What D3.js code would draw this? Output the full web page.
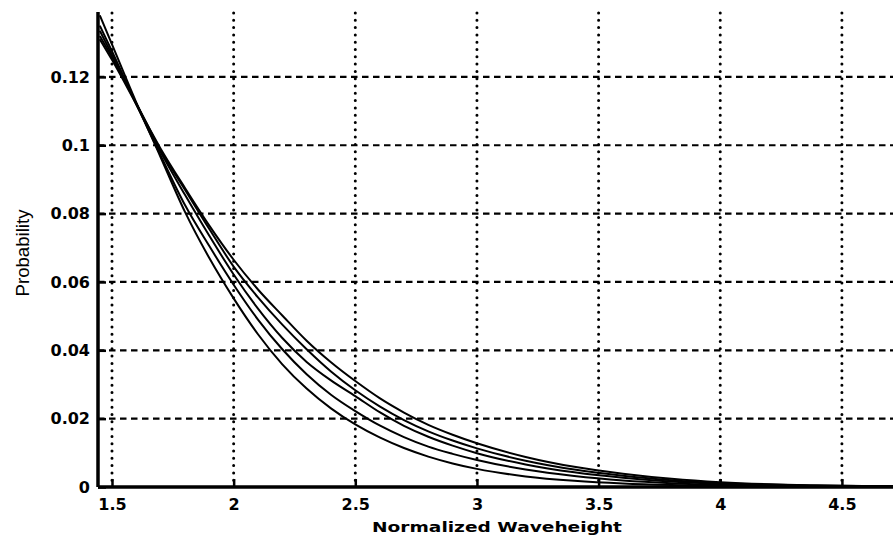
<!DOCTYPE html>
<html><head><meta charset="utf-8">
<script src="https://cdn.jsdelivr.net/npm/d3@7"></script>
<style>html,body{margin:0;padding:0;background:#fff;}svg{display:block;}</style>
</head><body>
<svg id="chart" width="893" height="539"></svg>
<script>
const xValues = [1.45,1.5,1.6,1.7,1.8,1.9,2.0,2.1,2.2,2.3,2.4,2.5,2.6,2.7,2.8,2.9,3.0,3.2,3.4,3.6,3.8,4.0,4.2,4.4,4.6,4.72];
const seriesA = [0.138,0.1295,0.1125,0.0965,0.0805,0.067,0.0552,0.0447,0.0359,0.0288,0.023,0.0183,0.0145,0.0114,0.0089,0.0069,0.0053,0.0031,0.0018,0.001,0.00055,0.0003,0.00017,0.0001,0.00006,0.00004];
const seriesB = [0.135,0.1275,0.112,0.097,0.0825,0.0705,0.0592,0.049,0.0403,0.033,0.027,0.0222,0.018,0.0146,0.0118,0.0097,0.0079,0.0051,0.0032,0.0019,0.0011,0.0006,0.00035,0.0002,0.00012,0.0001];
const seriesC = [0.1335,0.1265,0.112,0.098,0.0855,0.0735,0.0622,0.0522,0.0436,0.0366,0.0312,0.0266,0.0219,0.0179,0.0147,0.0121,0.0099,0.0066,0.0043,0.0027,0.0016,0.0009,0.0005,0.0003,0.00017,0.00012];
const seriesD = [0.132,0.1258,0.1123,0.0985,0.087,0.0755,0.0645,0.0555,0.0475,0.0403,0.0338,0.0283,0.0236,0.0196,0.0163,0.0136,0.0113,0.0077,0.0051,0.0033,0.002,0.0011,0.0007,0.0004,0.00025,0.00018];
const seriesE = [0.131,0.125,0.112,0.099,0.0875,0.0765,0.0665,0.0578,0.0502,0.0428,0.0365,0.031,0.026,0.0218,0.0182,0.0153,0.0128,0.0088,0.0059,0.0039,0.0024,0.0014,0.0008,0.0005,0.0003,0.0002];
const xTicks = [1.5,2,2.5,3,3.5,4,4.5];
const xTickLabels = ["1.5","2","2.5","3","3.5","4","4.5"];
const yTicks = [0,0.02,0.04,0.06,0.08,0.1,0.12];
const yTickLabels = ["0","0.02","0.04","0.06","0.08","0.1","0.12"];
const xLabel = "Normalized Waveheight";
const yLabel = "Probability";

const svg = d3.select("#chart");
const mLeft = 98, mRight = 893, mBottom = 487, mTop = 12;
const x = d3.scaleLinear().domain([1.4425, 4.71]).range([mLeft, mRight]);
const y = d3.scaleLinear().domain([0, 0.139]).range([mBottom, mTop]);

// grid: vertical dotted
svg.append("g").selectAll("line").data(xTicks).join("line")
  .attr("x1", d => x(d)).attr("x2", d => x(d))
  .attr("y1", mTop + 1).attr("y2", mBottom)
  .attr("stroke", "#000").attr("stroke-width", 3)
  .attr("stroke-linecap", "round").attr("stroke-dasharray", "0,7.3");
// grid: horizontal dashed
svg.append("g").selectAll("line").data(yTicks).join("line")
  .attr("x1", mLeft).attr("x2", mRight)
  .attr("y1", d => y(d)).attr("y2", d => y(d))
  .attr("stroke", "#000").attr("stroke-width", 2.2)
  .attr("stroke-dasharray", "6.5,4.5");

// curves
const line = d3.line().x((d, i) => x(xValues[i])).y(d => y(d)).curve(d3.curveMonotoneX);
[seriesA, seriesB, seriesC, seriesD, seriesE].forEach(s => {
  svg.append("path").datum(s).attr("d", line)
    .attr("fill", "none").attr("stroke", "#000").attr("stroke-width", 2);
});

// axes
const fontFam = "'DejaVu Sans', sans-serif";
const ax = svg.append("g").attr("transform", `translate(0,${mBottom})`)
  .call(d3.axisBottom(x).tickValues(xTicks).tickFormat((d, i) => xTickLabels[i])
    .tickSizeInner(-8).tickSizeOuter(0).tickPadding(12));
const ay = svg.append("g").attr("transform", `translate(${mLeft},0)`)
  .call(d3.axisLeft(y).tickValues(yTicks).tickFormat((d, i) => yTickLabels[i])
    .tickSizeInner(-8).tickSizeOuter(0).tickPadding(8));
[ax, ay].forEach(g => {
  g.select(".domain").attr("stroke", "#000").attr("stroke-width", 3.5);
  g.selectAll(".tick line").attr("stroke", "#000").attr("stroke-width", 2.5);
  g.selectAll(".tick text").attr("fill", "#000")
    .style("font-family", fontFam).style("font-weight", "bold").style("font-size", "16px");
});
ay.select(".domain").attr("d", `M0,${mTop}V${mBottom}`);
ax.select(".domain").attr("d", `M${mLeft},0H${mRight}`);

// labels
svg.append("text").attr("x", 497).attr("y", 532).attr("text-anchor", "middle")
  .attr("textLength", 250).attr("lengthAdjust", "spacingAndGlyphs")
  .style("font-family", fontFam).style("font-weight", "bold").style("font-size", "14px")
  .text(xLabel);
svg.append("text").attr("transform", "translate(29,253) rotate(-90)").attr("text-anchor", "middle")
  .attr("textLength", 87).attr("lengthAdjust", "spacingAndGlyphs")
  .style("font-family", "'Liberation Sans', Arial, sans-serif").style("font-size", "18px")
  .text(yLabel);
</script>
</body></html>
